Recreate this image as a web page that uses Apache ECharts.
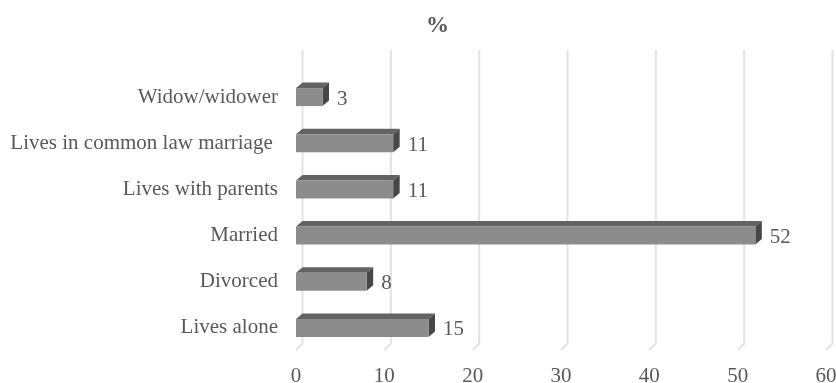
<!DOCTYPE html>
<html>
<head>
<meta charset="utf-8">
<script src="https://cdn.jsdelivr.net/npm/echarts@6/dist/echarts.min.js"></script>
<style>
  html, body { margin: 0; padding: 0; background: #fff; }
  #chart { width: 836px; height: 383px; }
</style>
</head>
<body>
<div id="chart"></div>
<script>
// 类别（从下到上）
const categories = ['Lives alone', 'Divorced', 'Married', 'Lives with parents', 'Lives in common law marriage ', 'Widow/widower'];
// 百分比
const values = [15, 8, 52, 11, 11, 3];
// x轴刻度
const xTicks = [0, 10, 20, 30, 40, 50, 60];

const FONT = '"Liberation Serif", "Times New Roman", serif';
const TEXT_COLOR = '#595959';
// 3D深度偏移
const DX = 6.5;
const DY = 5.5;

// 画3D柱子
function renderBar(params, api) {
    const start = api.coord([0, api.value(1)]);
    const end = api.coord([api.value(0), api.value(1)]);
    const h = 18;
    const x0 = start[0], x1 = end[0];
    const y0 = start[1] - h / 2, y1 = start[1] + h / 2;
    return {
        type: 'group',
        children: [
            {
                type: 'polygon',
                shape: { points: [[x0, y0], [x0 + DX, y0 - DY], [x1 + DX, y0 - DY], [x1, y0]] },
                style: { fill: '#636363' }
            },
            {
                type: 'polygon',
                shape: { points: [[x1, y0], [x1 + DX, y0 - DY], [x1 + DX, y1 - DY], [x1, y1]] },
                style: { fill: '#474747' }
            },
            {
                type: 'rect',
                shape: { x: x0, y: y0, width: x1 - x0, height: h },
                style: { fill: '#8c8c8c' }
            },
            {
                type: 'text',
                x: x1 + DX + 8,
                y: start[1] + 2,
                style: {
                    text: String(api.value(0)),
                    fill: TEXT_COLOR,
                    font: '21px ' + FONT,
                    align: 'left',
                    verticalAlign: 'middle'
                }
            }
        ]
    };
}

// 画背墙网格线和底面斜线
function renderGrid(params, api) {
    const cs = params.coordSys;
    const p = api.coord([api.value(0), 0]);
    const x = p[0];
    const bottom = cs.y + cs.height - 1;
    return {
        type: 'polyline',
        shape: { points: [[x + DX, cs.y - 24], [x + DX, bottom - DY - 1], [x, bottom]] },
        style: { stroke: '#e3e3e3', lineWidth: 2, fill: null }
    };
}

const chart = echarts.init(document.getElementById('chart'));

chart.setOption({
    animation: false,
    title: {
        text: '%',
        left: 421,
        top: 10,
        textStyle: { fontFamily: FONT, fontSize: 23, fontWeight: 'bold', color: TEXT_COLOR }
    },
    grid: {
        left: 296,
        right: 10,
        top: 74,
        bottom: 32,
        containLabel: false,
        outerBoundsMode: 'none'
    },
    xAxis: {
        type: 'value',
        min: 0,
        max: 60,
        interval: 10,
        axisLine: { show: false },
        axisTick: { show: false },
        splitLine: { show: false },
        axisLabel: { fontFamily: FONT, fontSize: 21, color: TEXT_COLOR, margin: 15 }
    },
    yAxis: {
        type: 'category',
        data: categories,
        axisLine: { show: false },
        axisTick: { show: false },
        splitLine: { show: false },
        axisLabel: { fontFamily: FONT, fontSize: 21, color: TEXT_COLOR, margin: 18, padding: [4, 0, 0, 0] }
    },
    series: [
        {
            type: 'custom',
            silent: true,
            z: 1,
            renderItem: renderGrid,
            encode: { x: 0 },
            data: xTicks.map(v => [v])
        },
        {
            type: 'custom',
            z: 2,
            renderItem: renderBar,
            encode: { x: 0, y: 1 },
            data: values.map((v, i) => [v, i])
        }
    ]
});
</script>
</body>
</html>
